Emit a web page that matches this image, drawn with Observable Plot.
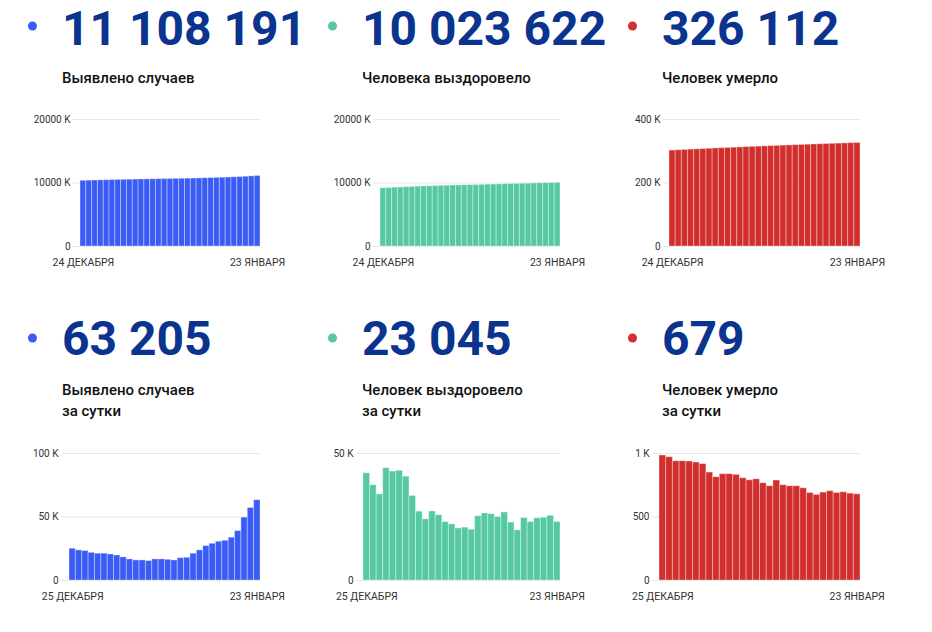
<!DOCTYPE html>
<html>
<head>
<meta charset="utf-8">
<script src="https://cdn.jsdelivr.net/npm/d3@7"></script>
<script src="https://cdn.jsdelivr.net/npm/@observablehq/plot@0.6"></script>
<style>
  html, body { margin: 0; padding: 0; background: #fff; }
  #root { position: relative; width: 932px; height: 632px; overflow: hidden; font-family: Roboto, sans-serif; }
  .panel { position: absolute; }
  #head { position: absolute; left: 0; top: 0; overflow: visible; }
</style>
</head>
<body>
<div id="root"></div>
<script>
// ---- data ----
const totals = ["11 108 191", "10 023 622", "326 112"];
const totalsTitles = ["Выявлено случаев", "Человека выздоровело", "Человек умерло"];
const daily = ["63 205", "23 045", "679"];
const dailyTitles = [["Выявлено случаев", "за сутки"], ["Человек выздоровело", "за сутки"], ["Человек умерло", "за сутки"]];
const topXLabels = ["24 ДЕКАБРЯ", "23 ЯНВАРЯ"];
const bottomXLabels = ["25 ДЕКАБРЯ", "23 ЯНВАРЯ"];

const casesTotal = [10344586, 10369586, 10393286, 10416486, 10438286, 10459386, 10480486, 10500986, 10520686, 10538886, 10555486, 10571286, 10587086, 10602386, 10618986, 10635586, 10651886, 10667686, 10685286, 10703186, 10724286, 10747986, 10775086, 10803986, 10834486, 10865786, 10899486, 10938386, 10987886, 11044986, 11108191];
const recoveredTotal = [9177577, 9219777, 9257277, 9291177, 9335377, 9378277, 9421477, 9462377, 9495677, 9522777, 9546877, 9574077, 9599777, 9622777, 9644877, 9665377, 9686177, 9706177, 9731477, 9757877, 9783977, 9808977, 9835777, 9858577, 9878277, 9902877, 9925877, 9950377, 9975077, 10000577, 10023622];
const deathsTotal = [302177, 303161, 304132, 305071, 306010, 306947, 307876, 308792, 309642, 310455, 311292, 312129, 312961, 313766, 314555, 315352, 316118, 316860, 317647, 318397, 319139, 319881, 320607, 321296, 321970, 322662, 323365, 324054, 324749, 325433, 326112];

const casesDaily = [25000, 23700, 23200, 21800, 21100, 21100, 20500, 19700, 18200, 16600, 15800, 15800, 15300, 16600, 16600, 16300, 15800, 17600, 17900, 21100, 23700, 27100, 28900, 30500, 31300, 33700, 38900, 49500, 57100, 63205];
const recoveredDaily = [42200, 37500, 33900, 44200, 42900, 43200, 40900, 33300, 27100, 24100, 27200, 25700, 23000, 22100, 20500, 20800, 20000, 25300, 26400, 26100, 25000, 26800, 22800, 19700, 24600, 23000, 24500, 24700, 25500, 23045];
const deathsDaily = [984, 971, 939, 939, 937, 929, 916, 850, 813, 837, 837, 832, 805, 789, 797, 766, 742, 787, 750, 742, 742, 726, 689, 674, 692, 703, 689, 695, 684, 679];

const colors = ["#3a5cf5", "#56c9a3", "#d12f2d"];
const navy = "#0b348f";

// categories: dates 24 Dec 2021 .. 23 Jan 2022
const fmtDay = d3.utcFormat("%Y-%m-%d");
const datesTop = d3.utcDay.range(new Date(Date.UTC(2021, 11, 24)), new Date(Date.UTC(2022, 0, 24))).map(fmtDay);
const datesBottom = datesTop.slice(1);

const fmtK = d => d >= 1000 ? `${d / 1000} K` : `${d}`;

const root = document.getElementById("root");

// ---- headers ----
const head = d3.select(root).append("svg").attr("id", "head").attr("width", 932).attr("height", 632);
function header(col, y0, big, lines, bigShift) {
  const x = 300 * col;
  head.append("circle").attr("cx", x + 32.5).attr("cy", y0 - 17).attr("r", 4.5).attr("fill", colors[col]);
  head.append("text").attr("x", x + 62).attr("y", y0 + bigShift).attr("fill", navy)
    .attr("font-family", "Roboto").attr("font-weight", 700).attr("font-size", 48).text(big);
  lines.forEach((t, i) => {
    head.append("text").attr("x", x + 62).attr("y", y0 + 40 + i * 21).attr("fill", "#111")
      .attr("font-family", "Roboto").attr("font-weight", 500).attr("font-size", 15).text(t);
  });
}
for (let c = 0; c < 3; c++) {
  header(c, 43, totals[c], [totalsTitles[c]], 2);
  header(c, 355, daily[c], dailyTitles[c], 0);
}

// ---- charts ----
function panel({values, dates, color, yDomain, yTicks, xLabels, marginLeft, barLeft, left, top}) {
  const data = values.map((v, i) => ({date: dates[i], value: v}));
  const width = 310, marginRight = 50;
  const first = dates[0], last = dates[dates.length - 1];
  const chart = Plot.plot({
    width, height: 180, marginTop: 19, marginBottom: 34, marginLeft, marginRight,
    style: {fontFamily: "Roboto", fontSize: "10px", color: "#333", background: "transparent", overflow: "visible"},
    x: {type: "band", domain: dates, range: [barLeft, width - marginRight], padding: 0, round: false},
    y: {domain: yDomain},
    marks: [
      Plot.gridY(yTicks, {stroke: "#e6e6e6", strokeOpacity: 1}),
      Plot.barY(data, {x: "date", y: "value", fill: color, stroke: "#fff", strokeOpacity: 0.35, strokeWidth: 1}),
      Plot.axisX([first, last], {tickFormat: d => d === first ? xLabels[0] : xLabels[1], tickSize: 0, tickPadding: 12, fontSize: 10.5, label: null}),
      Plot.axisY(yTicks, {tickFormat: fmtK, tickSize: 0, tickPadding: 3, fontSize: 10, label: null})
    ]
  });
  const div = document.createElement("div");
  div.className = "panel";
  div.style.left = left + "px";
  div.style.top = top + "px";
  div.appendChild(chart);
  root.appendChild(div);
}

panel({values: casesTotal, dates: datesTop, color: colors[0], yDomain: [0, 20000000], yTicks: [0, 10000000, 20000000], xLabels: topXLabels, marginLeft: 73, barLeft: 80, left: 0, top: 100});
panel({values: recoveredTotal, dates: datesTop, color: colors[1], yDomain: [0, 20000000], yTicks: [0, 10000000, 20000000], xLabels: topXLabels, marginLeft: 73, barLeft: 80, left: 300, top: 100});
panel({values: deathsTotal, dates: datesTop, color: colors[2], yDomain: [0, 400000], yTicks: [0, 200000, 400000], xLabels: topXLabels, marginLeft: 63, barLeft: 69, left: 600, top: 100});

panel({values: casesDaily, dates: datesBottom, color: colors[0], yDomain: [0, 100000], yTicks: [0, 50000, 100000], xLabels: bottomXLabels, marginLeft: 61, barLeft: 69, left: 0, top: 434});
panel({values: recoveredDaily, dates: datesBottom, color: colors[1], yDomain: [0, 50000], yTicks: [0, 50000], xLabels: bottomXLabels, marginLeft: 56, barLeft: 63, left: 300, top: 434});
panel({values: deathsDaily, dates: datesBottom, color: colors[2], yDomain: [0, 1000], yTicks: [0, 500, 1000], xLabels: bottomXLabels, marginLeft: 52, barLeft: 59, left: 600, top: 434});
</script>
</body>
</html>
